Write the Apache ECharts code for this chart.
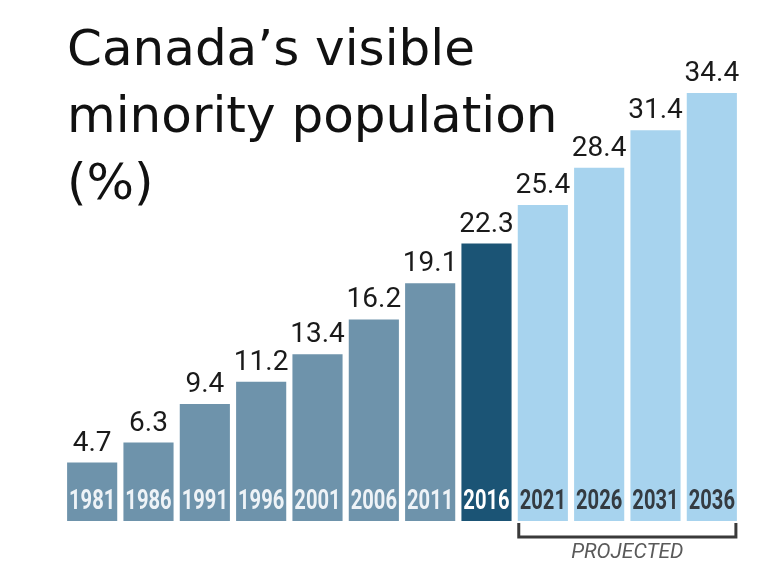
<!DOCTYPE html>
<html><head><meta charset="utf-8">
<script src="https://cdn.jsdelivr.net/npm/echarts@6/dist/echarts.min.js"></script>
<style>html,body{margin:0;padding:0;background:#fff}#c{width:768px;height:569px}</style>
</head><body><div id="c"></div>
<script>
var years = ['1981','1986','1991','1996','2001','2006','2011','2016','2021','2026','2031','2036'];
var values = [4.7, 6.3, 9.4, 11.2, 13.4, 16.2, 19.1, 22.3, 25.4, 28.4, 31.4, 34.4];
var kinds = ['past','past','past','past','past','past','past','current','proj','proj','proj','proj'];
var colors = {past:'#6e93ab', current:'#1b5475', proj:'#a7d3ee'};
var yearLabelColors = {past:'#eef3f7', current:'#ffffff', proj:'#343b41'};
var titleText = 'Canada\u2019s visible\nminority population\n(%)';
var projectedText = 'PROJECTED';

var chart = echarts.init(document.getElementById('c'));
var gapPct = 11;
chart.setOption({
  backgroundColor:'#ffffff',
  animation:false,
  title:{text:titleText,left:62,top:14,textStyle:{fontFamily:'DejaVu Sans',fontSize:50,fontWeight:'normal',color:'#111',lineHeight:67}},
  grid:{left:64,right:28,top:93,bottom:48},
  xAxis:{type:'category',data:years,axisLine:{show:false},axisTick:{show:false},axisLabel:{show:false}},
  yAxis:{type:'value',min:0,max:34.4,show:false,splitLine:{show:false}},
  series:[{type:'bar',barCategoryGap:gapPct+'%',
    data:values.map(function(v,i){return {value:v,itemStyle:{color:colors[kinds[i]]}};}),
    label:{show:true,position:'top',distance:5,fontFamily:'Roboto',fontSize:28,color:'#1a1a1a',
      formatter:function(p){return p.value.toFixed(1);}}},
   {type:'custom',z:10,data:years.map(function(y,i){return [i,0];}),
    renderItem:function(params,api){
      var i = api.value(0);
      var pt = api.coord([i,0]);
      return {type:'text',x:pt[0],y:pt[1]-5,scaleX:0.72,
        style:{text:years[i],fontFamily:'Roboto',fontWeight:'bold',fontSize:28,fill:yearLabelColors[kinds[i]],align:'center',verticalAlign:'bottom'}};
    }}]
});

function drawBracket(){
  var i0 = kinds.indexOf('proj');
  var i1 = kinds.length-1;
  var c0 = chart.convertToPixel({xAxisIndex:0}, years[i0]);
  var c1 = chart.convertToPixel({xAxisIndex:0}, years[i1]);
  var band = chart.convertToPixel({xAxisIndex:0}, years[1]) - chart.convertToPixel({xAxisIndex:0}, years[0]);
  var bw = band*(1-gapPct/100);
  var base = chart.convertToPixel({yAxisIndex:0}, 0);
  var x0 = c0 - bw/2 + 1, x1 = c1 + bw/2 - 1;
  var yTop = base + 2, yBot = base + 16;
  chart.setOption({graphic:[
    {type:'polyline',shape:{points:[[x0,yTop],[x0,yBot],[x1,yBot],[x1,yTop]]},style:{stroke:'#3a3a3a',lineWidth:3,fill:null}},
    {type:'text',x:(x0+x1)/2,y:yBot+16,style:{text:projectedText,fontFamily:'Roboto',fontStyle:'italic',fontSize:21,fill:'#5a5a5a',align:'center',verticalAlign:'middle'}}
  ]});
}
drawBracket();
</script></body></html>
